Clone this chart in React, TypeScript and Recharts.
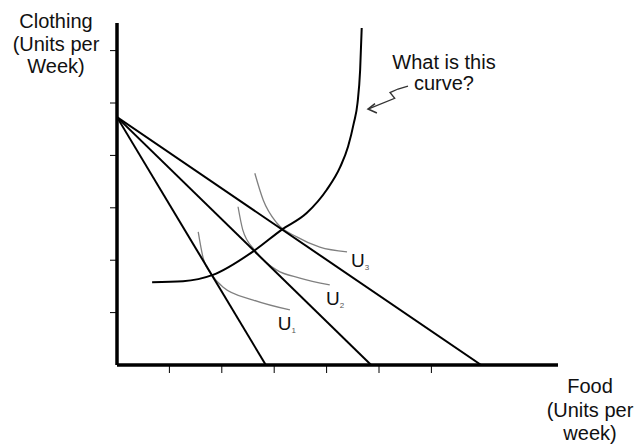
import React from "react";
import { LineChart, Line, XAxis, YAxis, ReferenceDot, Label } from "recharts";

// budget lines share the clothing intercept
const budget1 = [{ x: 0, y: 4.73 }, { x: 2.84, y: 0 }];
const budget2 = [{ x: 0, y: 4.73 }, { x: 4.85, y: 0 }];
const budget3 = [{ x: 0, y: 4.73 }, { x: 6.95, y: 0 }];

const priceCurve = [
  { x: 0.67, y: 1.58 },
  { x: 1.26, y: 1.6 },
  { x: 1.83, y: 1.72 },
  { x: 2.63, y: 2.19 },
  { x: 3.14, y: 2.58 },
  { x: 3.62, y: 2.9 },
  { x: 4.0, y: 3.34 },
  { x: 4.26, y: 3.78 },
  { x: 4.41, y: 4.17 },
  { x: 4.52, y: 4.62 },
  { x: 4.59, y: 5.0 },
  { x: 4.64, y: 5.63 },
  { x: 4.67, y: 6.43 },
];

const u1 = [
  { x: 1.55, y: 2.54 },
  { x: 1.64, y: 2.06 },
  { x: 1.81, y: 1.72 },
  { x: 2.02, y: 1.49 },
  { x: 2.6, y: 1.24 },
  { x: 3.3, y: 1.05 },
];
const u2 = [
  { x: 2.31, y: 3.02 },
  { x: 2.4, y: 2.58 },
  { x: 2.63, y: 2.19 },
  { x: 3.05, y: 1.81 },
  { x: 3.49, y: 1.66 },
  { x: 4.06, y: 1.53 },
];
const u3 = [
  { x: 2.63, y: 3.66 },
  { x: 2.79, y: 3.15 },
  { x: 3.05, y: 2.71 },
  { x: 3.44, y: 2.44 },
  { x: 3.87, y: 2.25 },
  { x: 4.39, y: 2.16 },
];

const arrowPath = [
  { x: 5.553, y: 5.324 },
  { x: 5.363, y: 5.267 },
  { x: 5.21, y: 5.2 },
  { x: 5.3, y: 5.09 },
  { x: 4.79, y: 4.885 },
];
const arrowHead = [
  { x: 4.924, y: 4.99 },
  { x: 4.79, y: 4.885 },
  { x: 4.96, y: 4.81 },
];

const ticks = [1, 2, 3, 4, 5, 6];
const clothingLines = ["Clothing", "(Units per", "Week)"];
const foodLines = ["Food", "(Units per", "week)"];
const questionLines = ["What is this", "curve?"];
const uLabels = [
  { x: 3.24, y: 0.8, sub: "1" },
  { x: 4.16, y: 1.28, sub: "2" },
  { x: 4.64, y: 2.0, sub: "3" },
];

const FONT = "'Liberation Sans', Arial, sans-serif";

const multiLine = (lines: string[], cx: number, y0: number, step: number) => (
  <text textAnchor="middle" fontFamily={FONT} fontSize={20} fill="#111">
    {lines.map((l, i) => (
      <tspan key={i} x={cx} y={y0 + i * step}>
        {l}
      </tspan>
    ))}
  </text>
);

const noLabel = () => <g />;

export default function App() {
  return (
    <div style={{ position: "absolute", left: 0, top: 0, background: "#fff" }}>
      <LineChart
        width={639}
        height={447}
        margin={{ top: 23, right: 81, bottom: 52, left: 57 }}
      >
        <XAxis
          type="number"
          dataKey="x"
          domain={[0, 8.416]}
          ticks={ticks}
          allowDataOverflow
          tick={noLabel}
          tickSize={8}
          axisLine={{ stroke: "#000", strokeWidth: 3.5 }}
          tickLine={{ stroke: "#000", strokeWidth: 1 }}
        >
          <Label
            content={(p: any) =>
              multiLine(foodLines, p.viewBox.x + p.viewBox.width + 32, p.viewBox.y + 28, 23.5)
            }
          />
        </XAxis>
        <YAxis
          type="number"
          dataKey="y"
          domain={[0, 6.527]}
          ticks={ticks}
          allowDataOverflow
          tick={noLabel}
          tickSize={7}
          width={60}
          axisLine={{ stroke: "#000", strokeWidth: 3.5 }}
          tickLine={{ stroke: "#000", strokeWidth: 1 }}
        >
          <Label
            content={(p: any) => multiLine(clothingLines, p.viewBox.x - 1, 28, 22.5)}
          />
        </YAxis>

        <Line data={u1} dataKey="y" type="monotone" stroke="#808080" strokeWidth={1.3} dot={false} isAnimationActive={false} />
        <Line data={u2} dataKey="y" type="monotone" stroke="#808080" strokeWidth={1.3} dot={false} isAnimationActive={false} />
        <Line data={u3} dataKey="y" type="monotone" stroke="#808080" strokeWidth={1.3} dot={false} isAnimationActive={false} />

        <Line data={budget1} dataKey="y" type="linear" stroke="#000" strokeWidth={2} dot={false} isAnimationActive={false} />
        <Line data={budget2} dataKey="y" type="linear" stroke="#000" strokeWidth={2} dot={false} isAnimationActive={false} />
        <Line data={budget3} dataKey="y" type="linear" stroke="#000" strokeWidth={2} dot={false} isAnimationActive={false} />

        <Line data={priceCurve} dataKey="y" type="monotone" stroke="#000" strokeWidth={2} dot={false} isAnimationActive={false} />

        <Line data={arrowPath} dataKey="y" type="linear" stroke="#333" strokeWidth={1.3} dot={false} isAnimationActive={false} />
        <Line data={arrowHead} dataKey="y" type="linear" stroke="#333" strokeWidth={1.5} dot={false} isAnimationActive={false} />

        <ReferenceDot
          x={6.24}
          y={5.65}
          r={1}
          fill="none"
          stroke="none"
          label={(p: any) => multiLine(questionLines, p.viewBox.x + 1, p.viewBox.y + 1, 21)}
        />

        {uLabels.map((u) => (
          <ReferenceDot
            key={u.sub}
            x={u.x}
            y={u.y}
            r={1}
            fill="none"
            stroke="none"
            label={(p: any) => (
              <text
                x={p.viewBox.x + 1}
                y={p.viewBox.y + 8}
                textAnchor="middle"
                fontFamily={FONT}
                fontSize={19}
                fill="#111"
              >
                U
                <tspan fontSize={8} dy={3} fill="#555">
                  {u.sub}
                </tspan>
              </text>
            )}
          />
        ))}
      </LineChart>
    </div>
  );
}
